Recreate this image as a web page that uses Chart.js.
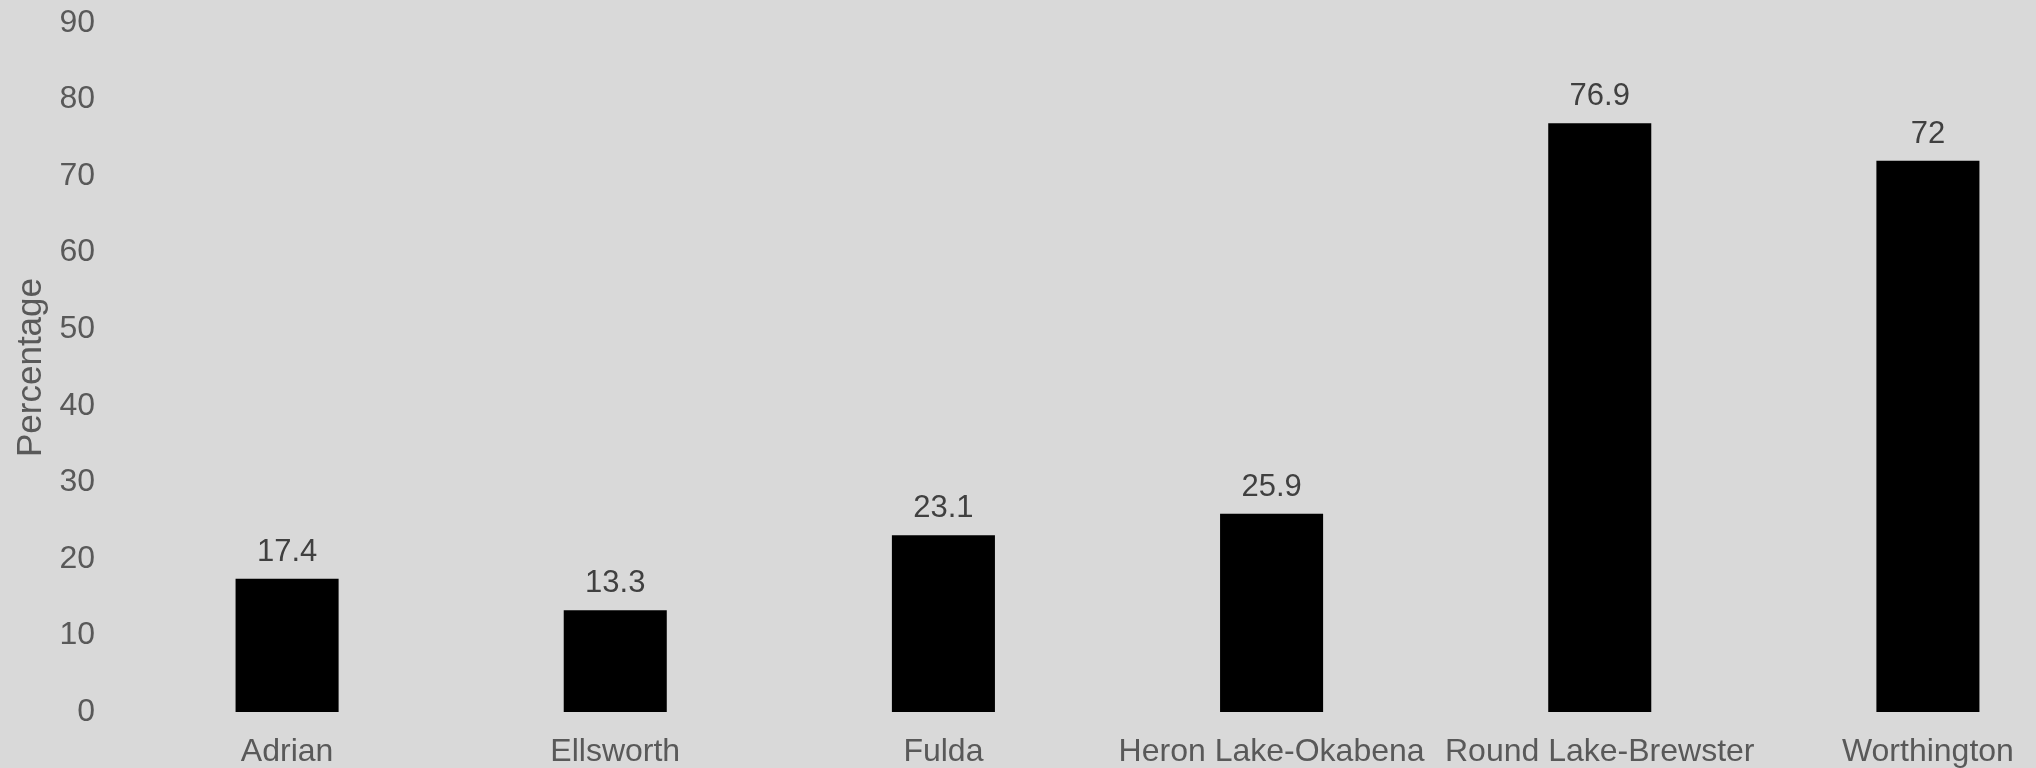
<!DOCTYPE html>
<html lang="en">
<head>
  <meta charset="UTF-8" />
  <title>Percentage by District</title>
  <script src="https://cdn.jsdelivr.net/npm/chart.js"></script>
  <style>
    html, body {
      margin: 0;
      padding: 0;
      background: #d9d9d9;
      overflow: hidden;
    }
    .chart-wrap {
      position: relative;
      width: 2100px;
      height: 768px;
    }
  </style>
</head>
<body>
  <div class="chart-wrap">
    <canvas id="pctChart"></canvas>
  </div>
  <script>
    const districts = ['Adrian', 'Ellsworth', 'Fulda', 'Heron Lake-Okabena', 'Round Lake-Brewster', 'Worthington'];
    const percentages = [17.4, 13.3, 23.1, 25.9, 76.9, 72];
    const yTicks = [0, 10, 20, 30, 40, 50, 60, 70, 80, 90];

    // value printed above each bar
    const barValues = {
      id: 'barValues',
      afterDatasetsDraw(chart) {
        const ctx = chart.ctx;
        const meta = chart.getDatasetMeta(0);
        ctx.save();
        ctx.font = '31px "Liberation Sans", Arial, sans-serif';
        ctx.fillStyle = '#404040';
        ctx.textAlign = 'center';
        ctx.textBaseline = 'alphabetic';
        meta.data.forEach((bar, i) => {
          ctx.fillText(String(chart.data.datasets[0].data[i]), bar.x, bar.y - 18);
        });
        ctx.restore();
      }
    };

    new Chart(document.getElementById('pctChart'), {
      type: 'bar',
      data: {
        labels: districts,
        datasets: [{
          label: 'Percentage',
          data: percentages,
          backgroundColor: '#000000',
          categoryPercentage: 1,
          barPercentage: 0.314
        }]
      },
      options: {
        responsive: true,
        maintainAspectRatio: false,
        animation: false,
        layout: { padding: { top: 23, right: 8, left: 0, bottom: 0 } },
        plugins: {
          legend: { display: false },
          tooltip: { enabled: false }
        },
        scales: {
          x: {
            grid: { display: false, drawTicks: false },
            border: { display: false },
            ticks: {
              color: '#595959',
              font: { family: '"Liberation Sans", Arial, sans-serif', size: 32 },
              padding: 21,
              maxRotation: 0,
              autoSkip: false
            },
            afterFit(scale) {
              scale.height = 56;
              scale.paddingLeft = 0;
              scale.paddingRight = 0;
            }
          },
          y: {
            min: 0,
            max: 90,
            grid: { display: false, drawTicks: false },
            border: { display: false },
            afterBuildTicks(scale) { scale.ticks = yTicks.map(v => ({ value: v })); },
            ticks: {
              color: '#595959',
              font: { family: '"Liberation Sans", Arial, sans-serif', size: 32 },
              padding: 28
            },
            title: {
              display: true,
              text: 'Percentage',
              color: '#595959',
              font: { family: '"Liberation Sans", Arial, sans-serif', size: 35 },
              padding: { top: 10, bottom: 10 }
            },
            afterFit(scale) {
              scale.width = 123;
              scale.paddingTop = 0;
              scale.paddingBottom = 0;
            }
          }
        }
      },
      plugins: [barValues]
    });
  </script>
</body>
</html>
